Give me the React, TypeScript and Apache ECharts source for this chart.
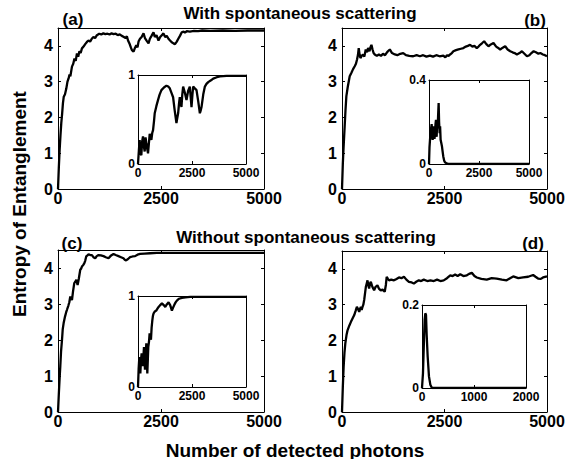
import React, { useEffect, useRef } from 'react';
import * as echarts from 'echarts';

const FONT = '"Liberation Sans", Arial, Helvetica, sans-serif';

// Panel titles / labels
const panelTags = ['(a)', '(b)', '(c)', '(d)'];
const rowTitles = ['With spontaneous scattering', 'Without spontaneous scattering'];
const yTitle = 'Entropy of Entanglement';
const xTitle = 'Number of detected photons';

// Main curves [photons, entropy]
const aMain: number[][] = [
  [0,0],[20,0.6],[40,1.1],[60,1.5],[80,1.85],[100,2.1],[120,2.4],[140,2.58],[170,2.65],[200,2.8],[230,3.0],[257,3.09],[280,3.2],[300,3.15],[339,3.42],[370,3.5],[400,3.65],[430,3.58],[460,3.79],[490,3.7],[520,3.85],[550,3.8],[581,3.93],[620,3.98],[660,4.05],[702,4.11],[740,4.15],[780,4.12],[820,4.2],[860,4.25],[900,4.22],[944,4.3],[1000,4.34],[1050,4.32],[1100,4.35],[1150,4.33],[1200,4.34],[1250,4.32],[1300,4.35],[1350,4.33],[1400,4.34],[1450,4.3],[1500,4.32],[1550,4.28],[1600,4.25],[1640,4.22],[1672,4.27],[1700,4.15],[1740,4.05],[1770,3.95],[1794,3.88],[1834,3.84],[1870,3.95],[1900,4.02],[1930,3.96],[1955,4.12],[1990,4.2],[2030,4.25],[2076,4.35],[2110,4.22],[2150,4.15],[2197,4.07],[2230,4.2],[2270,4.28],[2318,4.38],[2350,4.25],[2390,4.3],[2439,4.15],[2480,4.25],[2520,4.3],[2560,4.35],[2600,4.25],[2640,4.28],[2681,4.2],[2720,4.15],[2760,4.1],[2802,4.07],[2840,4.05],[2883,4.12],[2920,4.2],[2960,4.28],[3004,4.38],[3050,4.4],[3080,4.37],[3125,4.41],[3200,4.4],[3300,4.42],[3400,4.41],[3500,4.43],[3700,4.42],[4000,4.43],[4300,4.42],[4600,4.43],[5000,4.43]
];
const bMain: number[][] = [
  [0,0],[20,0.7],[40,1.2],[65,1.75],[85,2.2],[106,2.59],[140,2.85],[188,3.15],[230,3.25],[270,3.35],[310,3.43],[340,3.5],[367,3.62],[390,3.75],[408,3.94],[430,3.75],[449,3.66],[480,3.72],[514,3.76],[545,3.7],[579,3.9],[610,3.82],[636,3.94],[670,3.85],[700,3.98],[718,4.03],[745,3.9],[770,3.8],[799,3.76],[850,3.72],[900,3.76],[950,3.72],[1000,3.78],[1050,3.74],[1085,3.8],[1120,3.85],[1166,3.9],[1220,3.8],[1289,3.76],[1350,3.74],[1420,3.78],[1493,3.8],[1560,3.74],[1640,3.72],[1737,3.71],[1820,3.74],[1900,3.71],[1980,3.74],[2060,3.7],[2145,3.73],[2220,3.7],[2300,3.74],[2380,3.71],[2471,3.73],[2520,3.68],[2560,3.74],[2600,3.72],[2635,3.76],[2680,3.8],[2716,3.85],[2780,3.88],[2840,3.9],[2900,3.92],[2961,3.94],[3020,3.98],[3070,4.0],[3124,4.03],[3180,3.98],[3230,4.0],[3287,3.94],[3330,3.98],[3369,4.03],[3420,4.08],[3467,4.13],[3520,4.05],[3573,3.99],[3630,4.04],[3695,4.08],[3760,3.98],[3800,3.95],[3858,3.9],[3920,3.95],[3980,3.99],[4040,3.9],[4103,3.85],[4160,3.82],[4210,3.8],[4266,3.76],[4330,3.8],[4388,3.85],[4450,3.78],[4511,3.71],[4570,3.74],[4620,3.8],[4674,3.85],[4730,3.82],[4790,3.78],[4837,3.8],[4900,3.76],[4950,3.74],[5000,3.71]
];
const cMain: number[][] = [
  [0,0],[20,0.5],[40,0.95],[56,1.27],[75,1.7],[97,2.0],[115,2.3],[137,2.47],[170,2.65],[200,2.78],[218,2.84],[250,2.95],[275,3.05],[298,3.21],[320,3.15],[339,3.11],[365,3.35],[395,3.58],[420,3.62],[444,3.67],[460,3.6],[476,3.53],[505,3.7],[540,3.95],[560,3.98],[581,4.04],[610,4.08],[637,4.13],[660,4.2],[685,4.32],[715,4.35],[742,4.38],[780,4.36],[823,4.36],[860,4.3],[903,4.27],[940,4.33],[984,4.36],[1040,4.35],[1105,4.33],[1160,4.3],[1226,4.27],[1290,4.35],[1347,4.39],[1400,4.36],[1468,4.33],[1530,4.3],[1589,4.27],[1620,4.23],[1653,4.21],[1700,4.25],[1750,4.3],[1810,4.32],[1871,4.33],[1930,4.37],[1992,4.39],[2100,4.4],[2234,4.41],[2400,4.42],[2637,4.42],[3000,4.42],[3500,4.42],[4000,4.42],[4500,4.42],[5000,4.42]
];
const dMain: number[][] = [
  [0,0],[20,0.7],[40,1.27],[60,1.65],[81,1.92],[110,2.15],[137,2.29],[180,2.42],[218,2.52],[260,2.62],[299,2.71],[330,2.82],[363,2.94],[390,2.88],[420,2.8],[440,2.88],[460,2.94],[480,2.85],[501,2.94],[520,3.0],[541,3.13],[560,3.3],[582,3.5],[600,3.58],[622,3.68],[640,3.55],[662,3.45],[685,3.6],[703,3.64],[740,3.5],[783,3.4],[820,3.5],[864,3.54],[900,3.45],[945,3.4],[990,3.42],[1042,3.36],[1070,3.55],[1090,3.78],[1120,3.72],[1147,3.68],[1200,3.7],[1268,3.68],[1330,3.72],[1389,3.76],[1450,3.74],[1511,3.78],[1570,3.7],[1632,3.64],[1700,3.62],[1753,3.59],[1810,3.64],[1874,3.68],[1930,3.66],[1995,3.7],[2080,3.66],[2157,3.68],[2240,3.66],[2318,3.7],[2400,3.66],[2480,3.68],[2560,3.74],[2641,3.82],[2700,3.8],[2760,3.84],[2820,3.8],[2884,3.85],[2960,3.8],[3045,3.82],[3100,3.86],[3166,3.89],[3230,3.8],[3288,3.76],[3400,3.72],[3530,3.7],[3650,3.74],[3772,3.73],[3900,3.7],[4015,3.68],[4100,3.74],[4176,3.79],[4300,3.74],[4418,3.76],[4540,3.78],[4661,3.83],[4720,3.78],[4782,3.73],[4850,3.72],[4903,3.76],[5000,3.79]
];

// Inset curves
const aInset: number[][] = [
  [0,0],[40,0.15],[77,0.27],[110,0.12],[155,0.1],[190,0.25],[232,0.31],[270,0.2],[310,0.14],[350,0.3],[387,0.23],[420,0.18],[464,0.12],[500,0.22],[542,0.34],[580,0.3],[619,0.27],[660,0.35],[697,0.38],[740,0.48],[774,0.57],[850,0.65],[929,0.72],[1000,0.78],[1084,0.83],[1200,0.86],[1316,0.88],[1400,0.87],[1471,0.85],[1550,0.8],[1625,0.75],[1700,0.6],[1780,0.46],[1820,0.52],[1858,0.57],[1900,0.68],[1935,0.75],[1970,0.7],[2012,0.64],[2050,0.78],[2090,0.87],[2170,0.8],[2245,0.72],[2320,0.82],[2399,0.87],[2440,0.75],[2477,0.64],[2520,0.78],[2554,0.87],[2630,0.85],[2709,0.83],[2790,0.7],[2864,0.57],[2900,0.6],[2941,0.64],[3020,0.78],[3096,0.87],[3170,0.9],[3251,0.92],[3380,0.94],[3483,0.96],[3650,0.975],[3793,0.985],[4100,0.99],[4412,0.99],[5000,0.99]
];
const bInset: number[][] = [
  [0,0],[25,0.08],[50,0.115],[90,0.16],[133,0.19],[160,0.13],[183,0.115],[215,0.16],[249,0.18],[275,0.12],[299,0.147],[325,0.19],[349,0.21],[365,0.14],[382,0.13],[410,0.2],[432,0.17],[455,0.23],[482,0.29],[505,0.2],[532,0.147],[555,0.18],[581,0.115],[615,0.1],[648,0.084],[680,0.06],[714,0.036],[760,0.015],[797,0.008],[880,0.003],[963,0],[5000,0]
];
const cInset: number[][] = [
  [0,0],[30,0.2],[62,0.33],[85,0.22],[108,0.15],[140,0.3],[169,0.37],[200,0.28],[231,0.23],[255,0.35],[277,0.44],[300,0.3],[323,0.19],[355,0.35],[385,0.48],[410,0.3],[431,0.15],[455,0.3],[477,0.44],[510,0.5],[538,0.59],[570,0.55],[600,0.52],[630,0.65],[662,0.73],[690,0.78],[723,0.81],[780,0.83],[846,0.84],[900,0.86],[954,0.88],[1030,0.9],[1108,0.92],[1190,0.9],[1262,0.88],[1340,0.91],[1415,0.93],[1490,0.9],[1569,0.84],[1620,0.87],[1677,0.9],[1740,0.93],[1800,0.95],[1900,0.97],[2031,0.98],[2200,0.985],[2415,0.99],[3000,0.99],[4000,0.99],[5000,0.99]
];
const dInset: number[][] = [
  [0,0],[19,0.036],[38,0.116],[51,0.164],[64,0.18],[77,0.176],[89,0.13],[109,0.076],[134,0.028],[160,0.008],[192,0],[2000,0]
];

// Axis ranges
const mainX = { min: 0, max: 5000, interval: 2500 };
const mainY = { min: 0, max: 4.5, interval: 1 };
const insetXRanges = [
  { min: 0, max: 5000, interval: 2500 },
  { min: 0, max: 5000, interval: 2500 },
  { min: 0, max: 5000, interval: 2500 },
  { min: 0, max: 2000, interval: 1000 },
];
const insetYRanges = [
  { min: 0, max: 1, interval: 1 },
  { min: 0, max: 0.4, interval: 0.4 },
  { min: 0, max: 1, interval: 1 },
  { min: 0, max: 0.2, interval: 0.2 },
];

type Box = { left: number; top: number; width: number; height: number };
const mainBoxes: Box[] = [
  { left: 58, top: 28, width: 206, height: 161 },
  { left: 342, top: 28, width: 205, height: 161 },
  { left: 58, top: 250, width: 206, height: 162 },
  { left: 342, top: 251, width: 205, height: 161 },
];
const insetBoxes: Box[] = [
  { left: 138, top: 75, width: 108, height: 89 },
  { left: 429, top: 80, width: 100, height: 84 },
  { left: 138, top: 296, width: 108, height: 91 },
  { left: 422, top: 305, width: 104, height: 83 },
];

export default function App() {
  const ref = useRef<HTMLDivElement>(null);
  useEffect(() => {
    if (!ref.current) return;
    const chart = echarts.init(ref.current, undefined, { renderer: 'svg' });

    const grids: any[] = [];
    const xAxes: any[] = [];
    const yAxes: any[] = [];
    const series: any[] = [];

    const fmtY = (v: number) => {
      const r = Math.round(v * 1000) / 1000;
      return Number.isInteger(r) || r === 0.4 || r === 0.2 ? String(r) : '';
    };
    const fmtX = (v: number) => String(Math.round(v));

    const addPanel = (
      box: Box,
      xr: any,
      yr: any,
      data: number[][],
      inset: boolean
    ) => {
      const gi = grids.length;
      const z = inset ? 10 : 1;
      grids.push({
        ...box,
        containLabel: false,
        show: true,
        backgroundColor: '#fff',
        borderWidth: 0,
        z,
      });
      const fs = inset ? 12 : 16;
      const line = { show: true, onZero: false, lineStyle: { color: '#000', width: 1 } };
      const tick = { show: true, inside: true, length: 3, lineStyle: { color: '#000', width: 1 } };
      const lbl = { color: '#000', fontFamily: FONT, fontWeight: 'bold', fontSize: fs };
      xAxes.push({
        type: 'value', gridIndex: gi, position: 'bottom', ...xr, z: z + 1,
        axisLine: line, axisTick: tick, splitLine: { show: false },
        axisLabel: { ...lbl, margin: inset ? 3 : 1, showMinLabel: true, showMaxLabel: true, formatter: fmtX },
      });
      xAxes.push({
        type: 'value', gridIndex: gi, position: 'top', ...xr, z: z + 1,
        axisLine: line, axisTick: tick, splitLine: { show: false }, axisLabel: { show: false },
      });
      yAxes.push({
        type: 'value', gridIndex: gi, position: 'left', ...yr, z: z + 1,
        axisLine: line, axisTick: tick, splitLine: { show: false },
        axisLabel: { ...lbl, margin: inset ? 3 : 5, formatter: fmtY },
      });
      yAxes.push({
        type: 'value', gridIndex: gi, position: 'right', ...yr, z: z + 1,
        axisLine: line, axisTick: tick, splitLine: { show: false }, axisLabel: { show: false },
      });
      series.push({
        type: 'line',
        xAxisIndex: xAxes.length - 2,
        yAxisIndex: yAxes.length - 2,
        data,
        showSymbol: false,
        symbol: 'none',
        lineStyle: { color: '#000', width: 2.3 },
        z: z + 2,
        silent: true,
      });
    };

    const mains = [aMain, bMain, cMain, dMain];
    const insets = [aInset, bInset, cInset, dInset];
    for (let i = 0; i < 4; i++) {
      addPanel(mainBoxes[i], mainX, mainY, mains[i], false);
    }
    for (let i = 0; i < 4; i++) {
      addPanel(insetBoxes[i], insetXRanges[i], insetYRanges[i], insets[i], true);
    }

    const txt = (text: string, x: number, y: number, size: number, rot = 0, align = 'center') => ({
      type: 'text',
      x, y, rotation: rot, z: 50,
      style: {
        text, fill: '#000',
        font: `bold ${size}px ${FONT}`,
        textAlign: align, textVerticalAlign: 'middle',
        align, verticalAlign: 'middle',
      },
    });

    chart.setOption({
      animation: false,
      backgroundColor: '#fff',
      grid: grids,
      xAxis: xAxes,
      yAxis: yAxes,
      series,
      graphic: [
        txt(rowTitles[0], 300, 13, 17),
        txt(rowTitles[1], 306, 237, 17),
        txt(panelTags[0], 73, 19, 17),
        txt(panelTags[1], 535, 20, 17),
        txt(panelTags[2], 72, 243, 17),
        txt(panelTags[3], 533, 243, 17),
        txt(yTitle, 19, 204, 19, Math.PI / 2),
        txt(xTitle, 295, 450, 19),
      ],
    });
    return () => chart.dispose();
  }, []);
  return (
    <div
      ref={ref}
      style={{ position: 'fixed', left: 0, top: 0, width: 568, height: 459, background: '#fff' }}
    />
  );
}
